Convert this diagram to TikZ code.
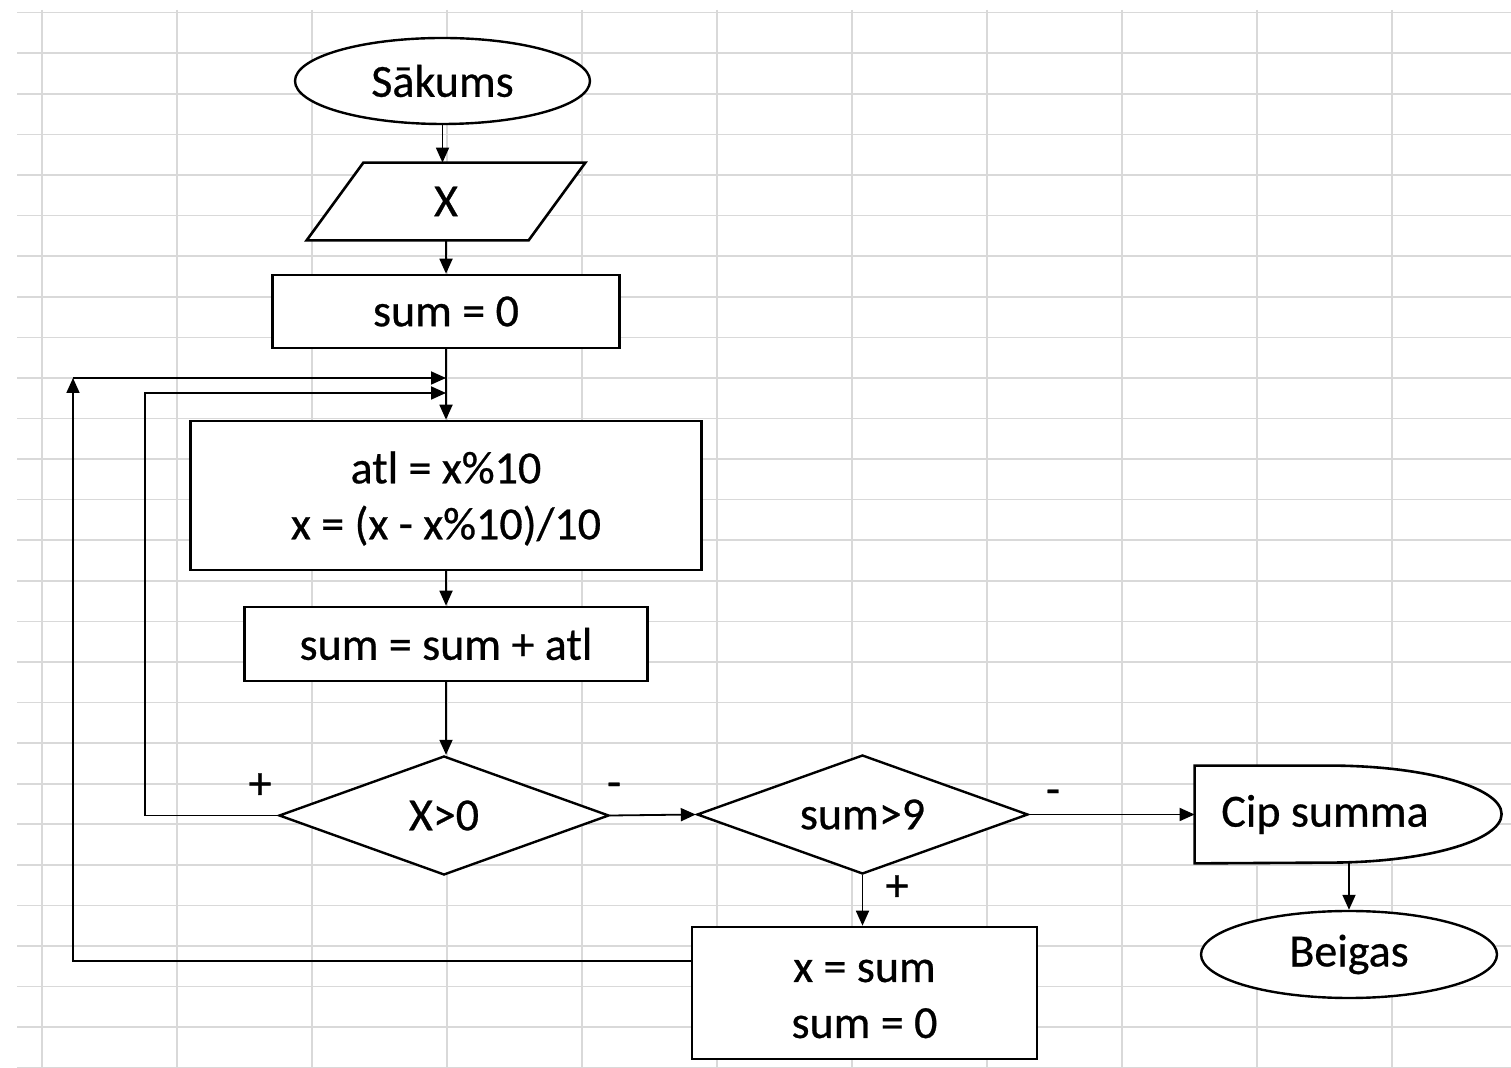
\documentclass[tikz,border=0pt]{standalone}
\usepackage{fontspec}
\setmainfont{Carlito}
\newfontfamily\chartfont{Carlito}[FakeBold=0.6]
\usetikzlibrary{shapes.geometric,arrows.meta,calc}
\begin{document}
\begin{tikzpicture}[x=0.5pt,y=-0.5pt,
  every node/.style={font=\chartfont\fontsize{23}{28}\selectfont, inner sep=0pt, align=center},
  gridline/.style={draw=black!15, line width=0.8pt},
  box/.style={draw, line width=1.3pt, fill=white, rectangle},
  oval/.style={draw, line width=1.2pt, fill=white, ellipse},
  dia/.style={draw, line width=1.2pt, fill=white, diamond, aspect=2.77},
  plain/.style={rectangle},
  conn/.style={line width=0.9pt},
  tip/.style={-{Triangle[length=7.5pt,width=6.5pt]}}
]
\useasboundingbox (0,0) rectangle (1511,1068);
\fill[white] (0,0) rectangle (1511,1068);
% spreadsheet grid
\foreach \k in {0,...,10} \draw[gridline] ({41.7+135*\k},10) -- ({41.7+135*\k},1068);
\foreach \j in {0,...,26} \draw[gridline] (17,{12.7+40.58*\j}) -- (1511,{12.7+40.58*\j});

% nodes
\node[oval, minimum width=147.5pt, minimum height=43pt] (start) at (442.5,81) {Sākums};
\node[plain, minimum width=139pt, minimum height=38.5pt] (inp) at (446,201.5) {};
\filldraw[fill=white, line width=1.3pt] (inp.south west) -- ++(222,0) -- (inp.north east) -- ++(-222,0) -- cycle;
\node at (inp.center) {X};
\node[box, minimum width=173.5pt, minimum height=36.5pt] (sum0) at (446,311.5) {sum = 0};
\node[box, minimum width=255.5pt, minimum height=74.5pt] (atl) at (446,495.5) {};
\node at ($(atl.center)+(0,3)$) {atl = x\%10\\x = (x - x\%10)/10};
\node[box, minimum width=201.5pt, minimum height=37pt] (sum2) at (446,644) {sum = sum + atl};
\node[dia, minimum width=165pt, minimum height=59.5pt] (d1) at (444,815.5) {X>0};
\node[dia, minimum width=165.5pt, minimum height=59.5pt] (d2) at (862.5,814.5) {sum>9};
\node[box, minimum width=172.5pt, minimum height=66pt] (xsum) at (864.5,993) {};
\node at ($(xsum.center)+(0,6)$) {x = sum\\sum = 0};
\node[plain, minimum width=130pt, minimum height=48.5pt] (out) at (1325,814.5) {};
\filldraw[fill=white, line width=1.3pt] (out.south west) -- (out.north west) -- ++(135,0)
   arc[start angle=90, end angle=-90, x radius=86pt, y radius=24.25pt] -- cycle;
\node at (out.center) {Cip summa};
\node[oval, minimum width=148pt, minimum height=43.5pt] (end) at (1349,954.5) {Beigas};

% branch labels
\node (lp1) at (260,786) {+};
\node (lm1) at (614,790) {-};
\node (lm2) at (1053,797) {-};
\node (lp2) at (897,888) {+};

% loop coordinates
\coordinate (m1) at (446,378);
\coordinate (m2) at (446,393);
\coordinate (o1) at (73,961);
\coordinate (o2) at (73,378);
\coordinate (i2) at (145,393);

% connectors
\draw[conn,tip] (start.south) -- (start.south |- inp.north);
\draw[conn,tip] (inp.south) -- (sum0.north);
\draw[conn,tip] (sum0.south) -- (atl.north);
\draw[conn,tip] (atl.south) -- (sum2.north);
\draw[conn,tip] (sum2.south) -- (sum2.south |- d1.north);
\draw[conn,tip] (d1.east) -- (d2.west);
\draw[conn,tip] (d2.east) -- (out.west);
\draw[conn,tip] (d2.south) -- (d2.south |- xsum.north);
\draw[conn,tip] (out.south -| end.north) -- (end.north);
\draw[conn,tip] (d1.west) -| (i2) -- (m2);
\draw[conn,tip] (xsum.west |- o1) -- (o1) -- (o2);
\draw[conn,tip] (o2) -- (m1);
\end{tikzpicture}
\end{document}
